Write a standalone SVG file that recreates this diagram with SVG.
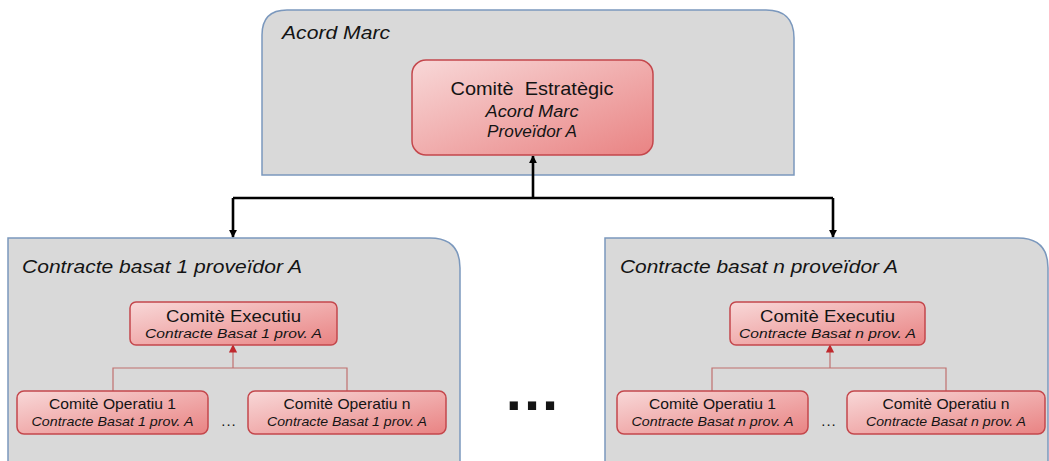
<svg xmlns="http://www.w3.org/2000/svg" width="1049" height="461" viewBox="0 0 1049 461">
  <defs>
    <linearGradient id="redGrad" x1="0" y1="0" x2="1" y2="1">
      <stop offset="0" stop-color="#f8d8d8"/>
      <stop offset="1" stop-color="#e98383"/>
    </linearGradient>
    <marker id="arrowBlack" viewBox="0 0 10 10" refX="9" refY="5" markerWidth="3.2" markerHeight="3.2" markerUnits="strokeWidth" orient="auto">
      <path d="M0,0 L10,5 L0,10 z" fill="#000"/>
    </marker>
    <marker id="arrowRed" viewBox="0 0 10 10" refX="9" refY="5" markerWidth="7" markerHeight="7" markerUnits="strokeWidth" orient="auto">
      <path d="M0,0 L10,5 L0,10 z" fill="#c0282d"/>
    </marker>
  </defs>
  <style>
    .container { fill: #d9d9d9; stroke: #7b98bd; stroke-width: 1.5; }
    .redbox { fill: url(#redGrad); stroke: #c4474c; stroke-width: 1.5; }
    .t { font-family: "Liberation Sans", Arial, sans-serif; fill: #141414; }
    .it { font-style: italic; }
    .blk { stroke: #000; stroke-width: 2.6; fill: none; }
    .red { stroke: #c0706f; stroke-width: 1.2; fill: none; }
  </style>
  <rect width="1049" height="461" fill="#ffffff"/>

  <!-- Containers -->
  <g id="container-acord-marc">
    <path class="container" d="M262,175 L262,35 Q262,10 287,10 L766,10 Q794,10 794,38 L794,175 Z"/>
    <text class="t it" x="282" y="38.5" font-size="18" textLength="108" lengthAdjust="spacingAndGlyphs">Acord Marc</text>
  </g>
  <g id="container-contracte-1">
    <path class="container" d="M8,470 L8,238 L430,238 Q460,238 460,268 L460,470 Z"/>
    <text class="t it" x="22" y="273" font-size="18" textLength="280" lengthAdjust="spacingAndGlyphs">Contracte basat 1 proveïdor A</text>
  </g>
  <g id="container-contracte-n">
    <path class="container" d="M605,470 L605,238 L1018,238 Q1048,238 1048,268 L1048,470 Z"/>
    <text class="t it" x="620" y="273" font-size="18" textLength="278" lengthAdjust="spacingAndGlyphs">Contracte basat n proveïdor A</text>
  </g>

  <!-- Connectors -->
  <g id="connectors">
    <path class="blk" d="M233,198 L833,198"/>
    <path class="blk" d="M533,198 L533,156" marker-end="url(#arrowBlack)"/>
    <path class="blk" d="M233,198 L233,237" marker-end="url(#arrowBlack)"/>
    <path class="blk" d="M833,198 L833,237" marker-end="url(#arrowBlack)"/>

    <path class="red" d="M113,391 L113,368 L347,368 L347,391"/>
    <path class="red" d="M233,368 L233,345" marker-end="url(#arrowRed)"/>
    <path class="red" d="M712,391 L712,368 L946,368 L946,391"/>
    <path class="red" d="M830,368 L830,345" marker-end="url(#arrowRed)"/>
  </g>

  <!-- Comitè Estratègic -->
  <g id="comite-estrategic">
    <rect class="redbox" x="412" y="60" width="241" height="95" rx="14" ry="14"/>
    <text class="t" x="532" y="95" font-size="19" text-anchor="middle" textLength="163" lengthAdjust="spacingAndGlyphs" xml:space="preserve">Comitè  Estratègic</text>
    <text class="t it" x="532" y="117" font-size="16" text-anchor="middle" textLength="93" lengthAdjust="spacingAndGlyphs">Acord Marc</text>
    <text class="t it" x="532" y="137" font-size="16" text-anchor="middle" textLength="90" lengthAdjust="spacingAndGlyphs">Proveïdor A</text>
  </g>

  <!-- Left contract -->
  <g id="executiu-1">
    <rect class="redbox" x="130" y="302" width="207" height="43" rx="6" ry="6"/>
    <text class="t" x="233.5" y="322" font-size="16" text-anchor="middle" textLength="135" lengthAdjust="spacingAndGlyphs">Comitè Executiu</text>
    <text class="t it" x="233.5" y="338" font-size="13.5" text-anchor="middle" textLength="177" lengthAdjust="spacingAndGlyphs">Contracte Basat 1 prov. A</text>
  </g>
  <g id="operatiu-1-1">
    <rect class="redbox" x="17" y="391" width="191" height="43" rx="7" ry="7"/>
    <text class="t" x="112.5" y="409" font-size="15" text-anchor="middle" textLength="127" lengthAdjust="spacingAndGlyphs">Comitè Operatiu 1</text>
    <text class="t it" x="112.5" y="426" font-size="13.5" text-anchor="middle" textLength="162" lengthAdjust="spacingAndGlyphs">Contracte Basat 1 prov. A</text>
  </g>
  <text class="t" x="229" y="426" font-size="15" text-anchor="middle" letter-spacing="1">...</text>
  <g id="operatiu-1-n">
    <rect class="redbox" x="248" y="391" width="198" height="43" rx="7" ry="7"/>
    <text class="t" x="347" y="409" font-size="15" text-anchor="middle" textLength="127" lengthAdjust="spacingAndGlyphs">Comitè Operatiu n</text>
    <text class="t it" x="347" y="426" font-size="13.5" text-anchor="middle" textLength="160" lengthAdjust="spacingAndGlyphs">Contracte Basat 1 prov. A</text>
  </g>

  <!-- Right contract -->
  <g id="executiu-n">
    <rect class="redbox" x="730" y="302" width="195" height="43" rx="6" ry="6"/>
    <text class="t" x="827.5" y="322" font-size="16" text-anchor="middle" textLength="135" lengthAdjust="spacingAndGlyphs">Comitè Executiu</text>
    <text class="t it" x="827.5" y="338" font-size="13.5" text-anchor="middle" textLength="177" lengthAdjust="spacingAndGlyphs">Contracte Basat n prov. A</text>
  </g>
  <g id="operatiu-n-1">
    <rect class="redbox" x="617" y="391" width="191" height="43" rx="7" ry="7"/>
    <text class="t" x="712.5" y="409" font-size="15" text-anchor="middle" textLength="127" lengthAdjust="spacingAndGlyphs">Comitè Operatiu 1</text>
    <text class="t it" x="712.5" y="426" font-size="13.5" text-anchor="middle" textLength="162" lengthAdjust="spacingAndGlyphs">Contracte Basat n prov. A</text>
  </g>
  <text class="t" x="829" y="426" font-size="15" text-anchor="middle" letter-spacing="1">...</text>
  <g id="operatiu-n-n">
    <rect class="redbox" x="847" y="391" width="198" height="43" rx="7" ry="7"/>
    <text class="t" x="946" y="409" font-size="15" text-anchor="middle" textLength="127" lengthAdjust="spacingAndGlyphs">Comitè Operatiu n</text>
    <text class="t it" x="946" y="426" font-size="13.5" text-anchor="middle" textLength="160" lengthAdjust="spacingAndGlyphs">Contracte Basat n prov. A</text>
  </g>

  <!-- Big ellipsis between contracts -->
  <text class="t" x="533" y="410" font-size="58" font-weight="bold" text-anchor="middle" letter-spacing="2" fill="#000">...</text>
</svg>
